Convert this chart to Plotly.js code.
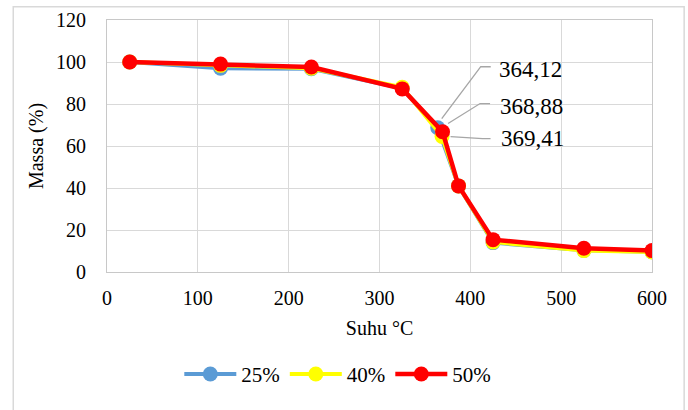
<!DOCTYPE html>
<html>
<head>
<meta charset="utf-8">
<script src="https://cdn.plot.ly/plotly-3.0.1.min.js"></script>
<style>html,body{margin:0;padding:0;background:#fff;}#chart{width:688px;height:410px;}</style>
</head>
<body>
<div id="chart"></div>
<script>
// Data
var seriesNames = ['25%', '40%', '50%'];
var x25 = [25, 125, 225, 325, 364.12, 387, 425, 525, 600];
var y25 = [100, 97, 96.8, 87.5, 68.7, 41, 14, 10.3, 9.6];
var x40 = [25, 125, 225, 325, 368.88, 387, 425, 525, 600];
var y40 = [100, 98.4, 97, 88, 64.5, 41, 14.3, 10.2, 9.5];
var x50 = [25, 125, 225, 325, 369.41, 387, 425, 525, 600];
var y50 = [100, 99, 97.6, 87.2, 66.8, 41, 15.4, 11.3, 10.2];
var labelIndex = 4;
var xTickVals = [0, 100, 200, 300, 400, 500, 600];
var yTickVals = [0, 20, 40, 60, 80, 100, 120];

var colors = ['#5B9BD5', '#FFFF00', '#FF0000'];
var widths = [4, 4, 4.5];
var xs = [x25, x40, x50], ys = [y25, y40, y50];

var traces = xs.map(function (xv, i) {
  return {
    x: xv, y: ys[i], name: seriesNames[i], type: 'scatter', mode: 'lines+markers',
    line: {color: colors[i], width: widths[i]},
    marker: {color: colors[i], size: 15},
    hoverinfo: 'skip'
  };
});

var fam = 'Liberation Serif, DejaVu Serif, serif';
var fnt = {family: fam, size: 20, color: '#000'};

// leader-line offsets (pixels relative to each labelled point; y up)
var leaderPaths = [
  'M 4,9 L 43,61 L 53,61',
  'M 6,13 L 38,33 L 48,33',
  'M 8,-5 L 40,-7 L 48,-7'
];
var labelShift = [[59, 58], [56, 30], [56, -7]];

var shapes = [{
  type: 'rect', xref: 'paper', yref: 'paper',
  x0: -0.172, x1: 1.059, y0: -0.62, y1: 1.053,
  line: {color: '#D9D9D9', width: 1.5}, fillcolor: 'rgba(0,0,0,0)', layer: 'below'
}];
var annotations = [];
xs.forEach(function (xv, i) {
  var px = xv[labelIndex], py = ys[i][labelIndex];
  shapes.push({
    type: 'path', xref: 'x', yref: 'y', xsizemode: 'pixel', ysizemode: 'pixel',
    xanchor: px, yanchor: py, path: leaderPaths[i],
    line: {color: '#A6A6A6', width: 1.3}, layer: 'above'
  });
  annotations.push({
    x: px, y: py, xref: 'x', yref: 'y', showarrow: false,
    text: String(px).replace('.', ','), xanchor: 'left', yanchor: 'middle',
    xshift: labelShift[i][0], yshift: labelShift[i][1],
    font: {family: fam, size: 23, color: '#000'}
  });
});

var layout = {
  width: 688, height: 410,
  margin: {l: 107, r: 36, t: 20, b: 138},
  paper_bgcolor: '#fff', plot_bgcolor: '#fff',
  font: fnt,
  showlegend: true,
  legend: {
    orientation: 'h', xref: 'container', yref: 'container',
    x: 0.491, xanchor: 'center', y: 0.087, yanchor: 'middle',
    font: {family: fam, size: 21, color: '#000'}, traceorder: 'normal', itemwidth: 52
  },
  xaxis: {
    range: [0, 600], tickvals: xTickVals, ticktext: xTickVals.map(String),
    showgrid: true, gridcolor: '#D9D9D9', gridwidth: 1,
    showline: true, linecolor: '#C8C8C8', linewidth: 1, mirror: true,
    zeroline: false, ticks: '', ticklabelstandoff: 8,
    tickfont: fnt,
    title: {text: 'Suhu °C', font: fnt, standoff: 12}
  },
  yaxis: {
    range: [0, 120], tickvals: yTickVals, ticktext: yTickVals.map(String),
    showgrid: true, gridcolor: '#D9D9D9', gridwidth: 1,
    showline: true, linecolor: '#C8C8C8', linewidth: 1, mirror: true,
    zeroline: false, ticks: '', ticklabelstandoff: 16,
    tickfont: fnt,
    title: {text: 'Massa (%)', font: fnt, standoff: 7}
  },
  shapes: shapes,
  annotations: annotations
};

Plotly.newPlot('chart', traces, layout, {displayModeBar: false, staticPlot: true});
</script>
</body>
</html>
